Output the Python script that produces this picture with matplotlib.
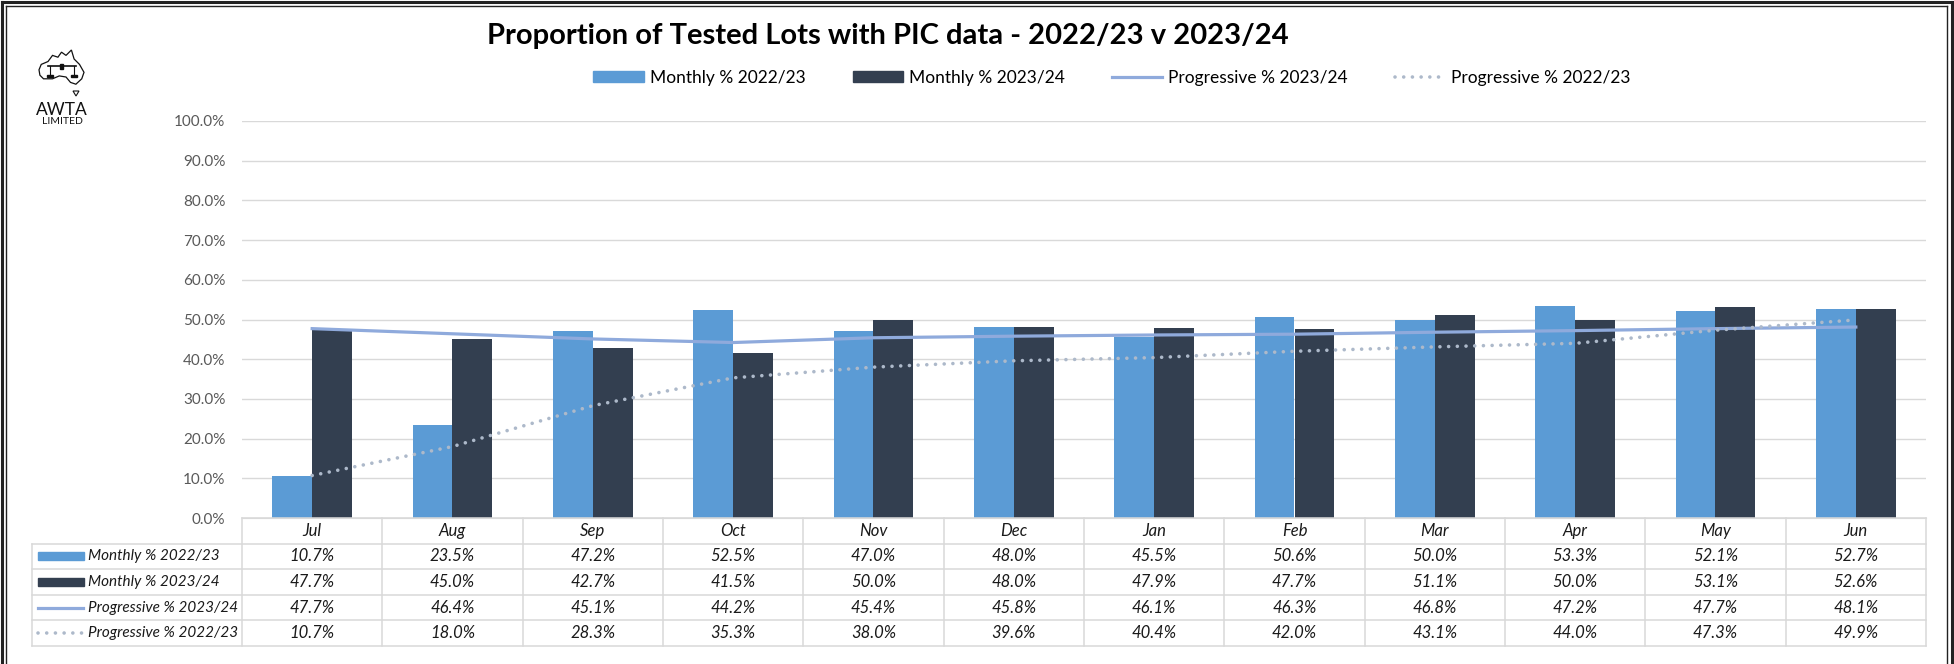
import matplotlib
matplotlib.use("Agg")
import matplotlib.pyplot as plt
from matplotlib.lines import Line2D
from matplotlib.patches import Rectangle, Polygon
import numpy as np

plt.rcParams['font.family'] = ['Lato', 'DejaVu Sans']

months = ["Jul", "Aug", "Sep", "Oct", "Nov", "Dec", "Jan", "Feb", "Mar", "Apr", "May", "Jun"]
monthly_2223 = [10.7, 23.5, 47.2, 52.5, 47.0, 48.0, 45.5, 50.6, 50.0, 53.3, 52.1, 52.7]
monthly_2324 = [47.7, 45.0, 42.7, 41.5, 50.0, 48.0, 47.9, 47.7, 51.1, 50.0, 53.1, 52.6]
prog_2324 = [47.7, 46.4, 45.1, 44.2, 45.4, 45.8, 46.1, 46.3, 46.8, 47.2, 47.7, 48.1]
prog_2223 = [10.7, 18.0, 28.3, 35.3, 38.0, 39.6, 40.4, 42.0, 43.1, 44.0, 47.3, 49.9]

series_names = ["Monthly % 2022/23", "Monthly % 2023/24", "Progressive % 2023/24", "Progressive % 2022/23"]

C_LIGHT = "#5B9BD5"
C_DARK = "#333F50"
C_PROG = "#8FAADC"
C_DOT = "#ADB9CA"
C_GRID = "#D9D9D9"
DOTS = (0, (0.01, 2.4))

W, H = 1954, 664
fig = plt.figure(figsize=(W / 100, H / 100), dpi=100)


def fx(px):
    return px / W


def fy(py):
    return 1 - py / H


# plot area in pixels
L, R, T, B = 242, 1926, 121, 518
ax = fig.add_axes([fx(L), fy(B), fx(R - L), (B - T) / H])

x = np.arange(len(months))
bw = 0.285
ax.bar(x - bw / 2, np.array(monthly_2223) / 100, bw, color=C_LIGHT, zorder=2)
ax.bar(x + bw / 2, np.array(monthly_2324) / 100, bw, color=C_DARK, zorder=2)
ax.plot(x, np.array(prog_2324) / 100, color=C_PROG, lw=2.3, zorder=3)
ax.plot(x, np.array(prog_2223) / 100, color=C_DOT, lw=2.6, linestyle=DOTS,
        dash_capstyle='round', zorder=4)

ax.set_xlim(-0.5, len(months) - 0.5)
ax.set_ylim(0, 1.0)
yt = np.arange(0, 1.01, 0.1)
ax.set_yticks(yt)
ax.set_yticklabels([f"{v * 100:.1f}%" for v in yt], color="#595959", fontsize=11)
ax.set_xticks([])
ax.tick_params(axis='y', length=0, pad=12)
ax.grid(axis='y', color=C_GRID, lw=1, zorder=0)
ax.set_axisbelow(True)
for s in ['left', 'right', 'top']:
    ax.spines[s].set_visible(False)
ax.spines['bottom'].set_color(C_GRID)

# title
fig.text(fx(888), fy(44), "Proportion of Tested Lots with PIC data - 2022/23 v 2023/24",
         ha='center', va='baseline', fontsize=21, fontweight='bold')

# legend
handles = [
    Rectangle((0, 0), 1, 1, color=C_LIGHT),
    Rectangle((0, 0), 1, 1, color=C_DARK),
    Line2D([], [], color=C_PROG, lw=2.3),
    Line2D([], [], color=C_DOT, lw=2.6, linestyle=DOTS, dash_capstyle='round'),
]
fig.legend(handles, series_names, loc='center', bbox_to_anchor=(fx(1112), fy(78)), ncol=4,
           frameon=False, fontsize=12.5, handlelength=2.9, handleheight=0.6,
           handletextpad=0.35, columnspacing=2.7)

# data table
TL = 32
row_h = 25.6
col_w = (R - L) / len(months)
col_edges = [L + i * col_w for i in range(len(months) + 1)]
tbl_bottom = B + row_h * 5
line_kw = dict(color=C_GRID, lw=1.1, transform=fig.transFigure)

fig.add_artist(Line2D([fx(L), fx(R)], [fy(B), fy(B)], **line_kw))
for k in range(1, 6):
    yk = B + row_h * k
    fig.add_artist(Line2D([fx(TL), fx(R)], [fy(yk), fy(yk)], **line_kw))
fig.add_artist(Line2D([fx(TL), fx(TL)], [fy(B + row_h), fy(tbl_bottom)], **line_kw))
for xe in col_edges:
    fig.add_artist(Line2D([fx(xe), fx(xe)], [fy(B), fy(tbl_bottom)], **line_kw))

txt_kw = dict(ha='center', va='center', fontsize=12, style='italic', color='#1a1a1a')
for i, m in enumerate(months):
    cx = (col_edges[i] + col_edges[i + 1]) / 2
    fig.text(fx(cx), fy(B + row_h * 0.5), m, **txt_kw)

rows = [monthly_2223, monthly_2324, prog_2324, prog_2223]
for r, vals in enumerate(rows):
    cy = B + row_h * (r + 1.5)
    for i, v in enumerate(vals):
        cx = (col_edges[i] + col_edges[i + 1]) / 2
        fig.text(fx(cx), fy(cy), f"{v:.1f}%", **txt_kw)
    # row key
    if r < 2:
        fig.add_artist(Rectangle((fx(38), fy(cy + 4)), fx(46), 8 / H,
                                 color=[C_LIGHT, C_DARK][r], transform=fig.transFigure))
    elif r == 2:
        fig.add_artist(Line2D([fx(38), fx(83)], [fy(cy), fy(cy)], color=C_PROG, lw=2.3,
                              transform=fig.transFigure))
    else:
        fig.add_artist(Line2D([fx(38), fx(83)], [fy(cy), fy(cy)], color=C_DOT, lw=2.6,
                              linestyle=DOTS, dash_capstyle='round',
                              transform=fig.transFigure))
    fig.text(fx(88), fy(cy), series_names[r], ha='left', va='center', fontsize=11,
             style='italic', color='#1a1a1a')

# logo: rough map outline, scales and text
aus = np.array([(0.0, 0.55), (0.05, 0.4), (0.2, 0.32), (0.3, 0.15), (0.42, 0.2), (0.5, 0.06),
                (0.6, 0.15), (0.72, 0.0), (0.78, 0.25), (0.9, 0.4), (1.0, 0.62), (0.95, 0.8),
                (0.82, 0.95), (0.7, 0.9), (0.6, 0.75), (0.45, 0.72), (0.3, 0.8), (0.1, 0.8),
                (0.02, 0.7)])
mx0, my0, mw, mh = 39, 50, 45, 36
pts = [(fx(mx0 + px * mw), fy(my0 + py * mh)) for px, py in aus]
fig.add_artist(Polygon(pts, closed=True, fill=False, ec='#111111', lw=0.9, transform=fig.transFigure))
fig.add_artist(Line2D([fx(48), fx(76)], [fy(66), fy(66)], color='#111111', lw=1.2, transform=fig.transFigure))
for sx in (50, 74):
    fig.add_artist(Line2D([fx(sx), fx(sx)], [fy(66), fy(75)], color='#111111', lw=0.8, transform=fig.transFigure))
    fig.add_artist(Rectangle((fx(sx - 3), fy(77)), fx(6), 2 / H, color='#111111', transform=fig.transFigure))
fig.add_artist(Rectangle((fx(60), fy(69)), fx(3), 5 / H, color='#111111', transform=fig.transFigure))
fig.add_artist(Polygon([(fx(73), fy(91)), (fx(79), fy(91)), (fx(76), fy(96))], closed=True,
                       fill=False, ec='#111111', lw=0.8, transform=fig.transFigure))
fig.text(fx(62), fy(115), "AWTA", ha='center', va='baseline', fontsize=12.5, color='#111111')
fig.text(fx(62), fy(124), "LIMITED", ha='center', va='baseline', fontsize=7.5, color='#111111')

# outer frame
frame_kw = dict(transform=fig.transFigure, color='#222222')
fig.add_artist(Line2D([fx(1.5), fx(1.5)], [0, fy(1.5)], lw=2.2, **frame_kw))
fig.add_artist(Line2D([fx(6), fx(6)], [0, fy(6)], lw=1, **frame_kw))
fig.add_artist(Line2D([fx(1.5), fx(1952)], [fy(1.5), fy(1.5)], lw=2.2, **frame_kw))
fig.add_artist(Line2D([fx(6), fx(1947)], [fy(6), fy(6)], lw=1, **frame_kw))
fig.add_artist(Line2D([fx(1952), fx(1952)], [0, fy(1.5)], lw=2.2, **frame_kw))
fig.add_artist(Line2D([fx(1947), fx(1947)], [0, fy(6)], lw=1, **frame_kw))

fig.savefig("out.png", dpi=100)
